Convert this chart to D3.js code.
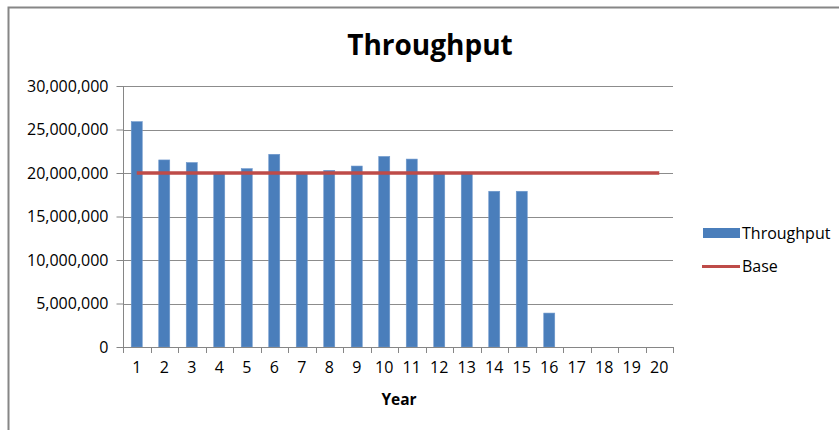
<!DOCTYPE html>
<html><head><meta charset="utf-8">
<script src="https://cdn.jsdelivr.net/npm/d3@7"></script>
<style>body{margin:0;background:#fff}svg{display:block;font-family:"Open Sans","DejaVu Sans",sans-serif}</style>
</head><body><svg id="c" width="839" height="430"></svg>
<script>
const years = d3.range(1, 21).map(String);
const throughput = [25900000,21500000,21200000,20000000,20500000,22150000,20000000,20300000,20800000,21900000,21600000,20000000,20000000,17900000,17900000,3900000,0,0,0,0];
const base = years.map(() => 20000000);
const yTicks = [0,5000000,10000000,15000000,20000000,25000000,30000000];

const svg = d3.select("#c");
svg.append("rect").attr("x",8.5).attr("y",7.5).attr("width",840).attr("height",430)
  .attr("fill","#fff").attr("stroke","#868686").attr("stroke-width",2);

const L=123, R=673, T=86, B=347;
const x = d3.scaleBand().domain(years).range([L,R]).paddingInner(0).paddingOuter(0);
const y = d3.scaleLinear().domain([0,30000000]).range([B,T]);

// gridlines
svg.append("g").selectAll("line").data(yTicks.slice(1)).join("line")
  .attr("x1",L).attr("x2",R).attr("y1",d=>Math.round(y(d))+0.5).attr("y2",d=>Math.round(y(d))+0.5)
  .attr("stroke","#8c8c8c").attr("stroke-width",1);

// bars
const bw = 11;
svg.append("g").selectAll("rect").data(throughput).join("rect")
  .attr("x",(d,i)=>x(years[i])+x.bandwidth()/2-bw/2)
  .attr("width",bw)
  .attr("y",d=>y(d)).attr("height",d=>B-y(d))
  .attr("fill","#4a7ebb").attr("stroke","#6d97cc").attr("stroke-width",0.6);

// y axis
const ya = svg.append("g").attr("transform",`translate(${L+0.5},0)`)
  .call(d3.axisLeft(y).tickValues(yTicks).tickSize(7).tickPadding(8).tickFormat(d3.format(",")));
ya.select(".domain").attr("stroke","#868686").attr("d",`M0,${T}V${B+0.5}`);
ya.selectAll(".tick line").attr("stroke","#868686");
ya.selectAll("text").attr("font-size",16).attr("fill","#000").attr("font-family","'Open Sans',sans-serif");

// x axis
const xa = svg.append("g").attr("transform",`translate(0,${B+0.5})`)
  .call(d3.axisBottom(x).tickSize(0).tickPadding(14));
xa.select(".domain").attr("stroke","#868686").attr("d",`M${L},0H${R+0.5}`);
xa.selectAll("text").attr("font-size",16).attr("fill","#000").attr("font-family","'Open Sans',sans-serif");
svg.append("g").selectAll("line").data(d3.range(21)).join("line")
  .attr("x1",i=>Math.round(L+i*x.bandwidth())+0.5).attr("x2",i=>Math.round(L+i*x.bandwidth())+0.5)
  .attr("y1",B).attr("y2",B+6).attr("stroke","#868686");

// base line
const line = d3.line().x((d,i)=>x(years[i])+x.bandwidth()/2).y(d=>y(d));
svg.append("path").datum(base).attr("d",line).attr("fill","none")
  .attr("stroke","#be4b48").attr("stroke-width",3.5);

// title
svg.append("text").attr("x",430).attr("y",55).attr("text-anchor","middle")
  .attr("font-size",28).attr("font-weight","bold").attr("fill","#000").text("Throughput");
// axis title
svg.append("text").attr("x",399).attr("y",405).attr("text-anchor","middle")
  .attr("font-size",15.5).attr("font-weight","bold").attr("fill","#000").text("Year");

// legend
const lg = svg.append("g");
lg.append("rect").attr("x",703).attr("y",228).attr("width",37).attr("height",10).attr("fill","#4a7ebb");
lg.append("text").attr("x",742).attr("y",239).attr("font-size",16).attr("fill","#000").text("Throughput");
lg.append("line").attr("x1",702).attr("x2",740).attr("y1",266.5).attr("y2",266.5).attr("stroke","#be4b48").attr("stroke-width",3);
lg.append("text").attr("x",742).attr("y",272).attr("font-size",16).attr("fill","#000").text("Base");
</script></body></html>
